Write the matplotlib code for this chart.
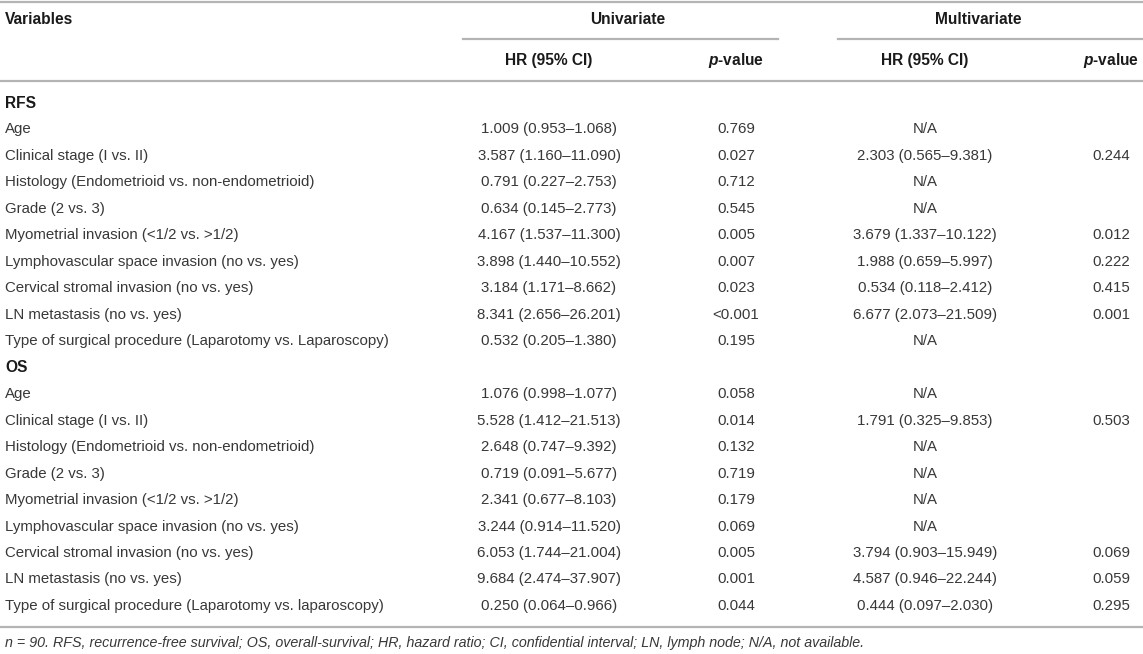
import matplotlib
matplotlib.use("Agg")
import matplotlib.pyplot as plt

plt.rcParams['font.family'] = ['Liberation Sans', 'DejaVu Sans']
plt.rcParams['mathtext.fontset'] = 'custom'
plt.rcParams['mathtext.it'] = 'Liberation Sans:italic:bold'

# table contents
groups = ["RFS", "OS"]
variables_rfs = [
    "Age",
    "Clinical stage (I vs. II)",
    "Histology (Endometrioid vs. non-endometrioid)",
    "Grade (2 vs. 3)",
    "Myometrial invasion (<1/2 vs. >1/2)",
    "Lymphovascular space invasion (no vs. yes)",
    "Cervical stromal invasion (no vs. yes)",
    "LN metastasis (no vs. yes)",
    "Type of surgical procedure (Laparotomy vs. Laparoscopy)",
]
uni_hr_rfs = ["1.009 (0.953–1.068)", "3.587 (1.160–11.090)", "0.791 (0.227–2.753)",
              "0.634 (0.145–2.773)", "4.167 (1.537–11.300)", "3.898 (1.440–10.552)",
              "3.184 (1.171–8.662)", "8.341 (2.656–26.201)", "0.532 (0.205–1.380)"]
uni_p_rfs = ["0.769", "0.027", "0.712", "0.545", "0.005", "0.007", "0.023", "<0.001", "0.195"]
multi_hr_rfs = ["N/A", "2.303 (0.565–9.381)", "N/A", "N/A", "3.679 (1.337–10.122)",
                "1.988 (0.659–5.997)", "0.534 (0.118–2.412)", "6.677 (2.073–21.509)", "N/A"]
multi_p_rfs = ["", "0.244", "", "", "0.012", "0.222", "0.415", "0.001", ""]

variables_os = [
    "Age",
    "Clinical stage (I vs. II)",
    "Histology (Endometrioid vs. non-endometrioid)",
    "Grade (2 vs. 3)",
    "Myometrial invasion (<1/2 vs. >1/2)",
    "Lymphovascular space invasion (no vs. yes)",
    "Cervical stromal invasion (no vs. yes)",
    "LN metastasis (no vs. yes)",
    "Type of surgical procedure (Laparotomy vs. laparoscopy)",
]
uni_hr_os = ["1.076 (0.998–1.077)", "5.528 (1.412–21.513)", "2.648 (0.747–9.392)",
             "0.719 (0.091–5.677)", "2.341 (0.677–8.103)", "3.244 (0.914–11.520)",
             "6.053 (1.744–21.004)", "9.684 (2.474–37.907)", "0.250 (0.064–0.966)"]
uni_p_os = ["0.058", "0.014", "0.132", "0.719", "0.179", "0.069", "0.005", "0.001", "0.044"]
multi_hr_os = ["N/A", "1.791 (0.325–9.853)", "N/A", "N/A", "N/A", "N/A",
               "3.794 (0.903–15.949)", "4.587 (0.946–22.244)", "0.444 (0.097–2.030)"]
multi_p_os = ["", "0.503", "", "", "", "", "0.069", "0.059", "0.295"]

footnote = ("n = 90. RFS, recurrence-free survival; OS, overall-survival; HR, hazard ratio; "
            "CI, confidential interval; LN, lymph node; N/A, not available.")

W, H = 1143, 654
fig = plt.figure(figsize=(W / 100, H / 100), dpi=100)
ax = fig.add_axes([0, 0, 1, 1])
ax.set_xlim(0, W)
ax.set_ylim(H, 0)
ax.axis("off")

fs = 10.8
fs_head = 11.2
fs_note = 10.3
txt = "#383838"
head = "#1a1a1a"
rule = "#b4b4b4"

x_var = 5
x_cols = [549, 736, 925, 1111]

# rules
ax.plot([0, W], [2, 2], color=rule, lw=1.6)
ax.plot([463, 778], [39, 39], color=rule, lw=1.6)
ax.plot([838, W], [39, 39], color=rule, lw=1.6)
ax.plot([0, W], [81, 81], color=rule, lw=1.6)
ax.plot([0, W], [627, 627], color=rule, lw=1.6)

# header
ax.text(x_var, 20, "Variables", ha="left", va="center", fontsize=fs_head, weight="bold", color=head)
ax.text(628, 20, "Univariate", ha="center", va="center", fontsize=fs_head, weight="bold", color=head)
ax.text(978, 20, "Multivariate", ha="center", va="center", fontsize=fs_head, weight="bold", color=head)
for i, lab in enumerate(["HR (95% CI)", r"$p$-value", "HR (95% CI)", r"$p$-value"]):
    ax.text(x_cols[i], 60, lab, ha="center", va="center", fontsize=fs_head, weight="bold", color=head)

# body
y0 = 103
dy = 26.47
row = 0
blocks = [
    (groups[0], variables_rfs, uni_hr_rfs, uni_p_rfs, multi_hr_rfs, multi_p_rfs),
    (groups[1], variables_os, uni_hr_os, uni_p_os, multi_hr_os, multi_p_os),
]
for g, names, uh, up, mh, mp in blocks:
    y = y0 + row * dy
    ax.text(x_var, y, g, ha="left", va="center", fontsize=fs_head, weight="bold", color=head)
    row += 1
    for k in range(len(names)):
        y = y0 + row * dy
        ax.text(x_var, y, names[k], ha="left", va="center", fontsize=fs, color=txt)
        for xc, val in zip(x_cols, [uh[k], up[k], mh[k], mp[k]]):
            ax.text(xc, y, val, ha="center", va="center", fontsize=fs, color=txt)
        row += 1

ax.text(x_var, 643, footnote, ha="left", va="center", fontsize=fs_note, style="italic", color=txt)

fig.savefig("out.png", dpi=100)
